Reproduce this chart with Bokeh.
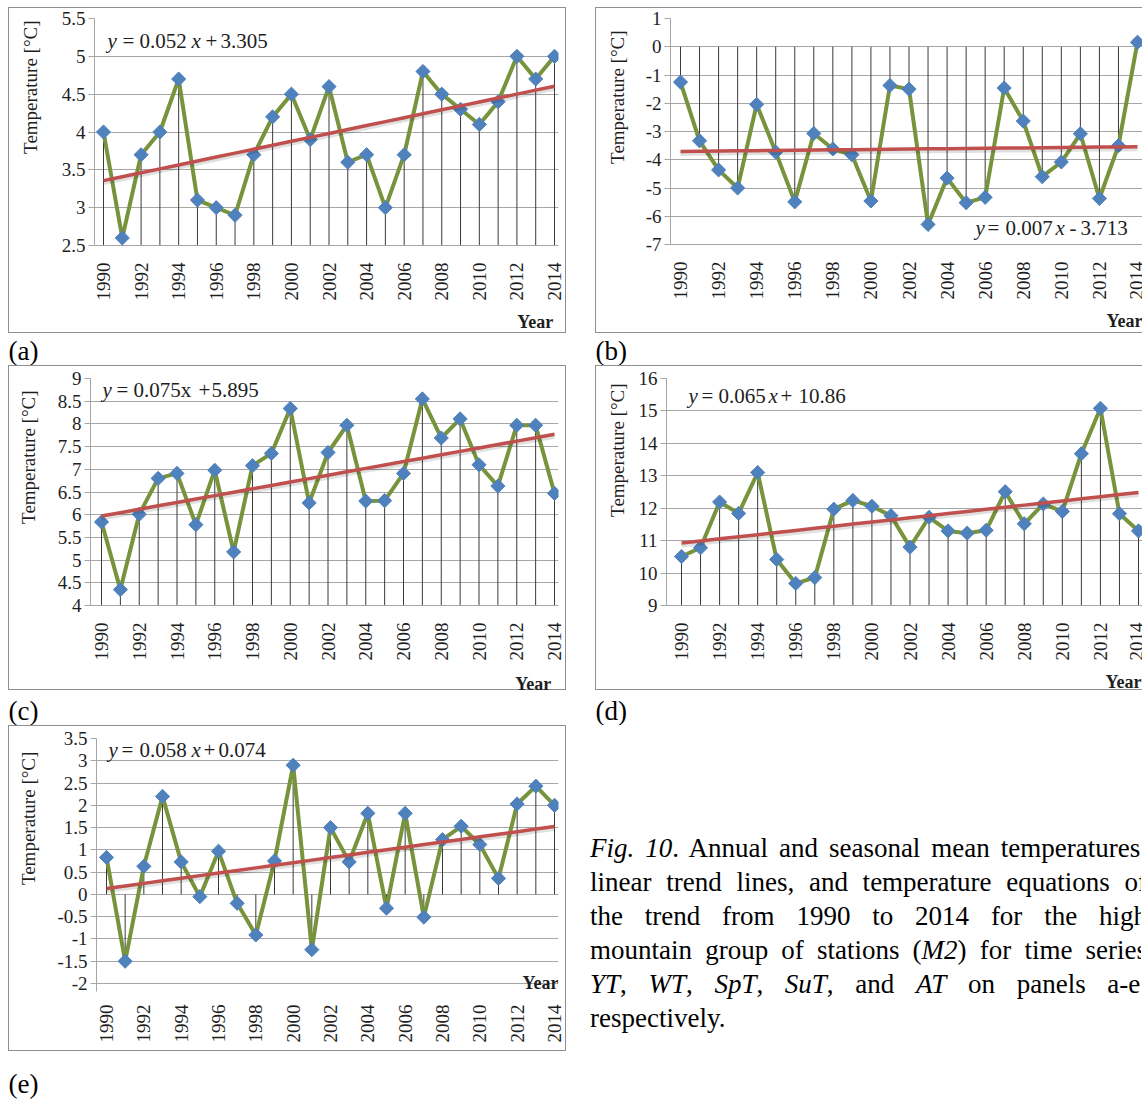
import numpy as np
from bokeh.plotting import figure
from bokeh.models import Range1d, FixedTicker, Label, Div, Spacer
from bokeh.layouts import row, column
from bokeh.embed import file_html
from bokeh.resources import INLINE

# ---------------- data ----------------
YEARS = list(range(1990, 2015))
X_TICKS = list(range(1990, 2015, 2))
X_LABELS = [str(y) for y in X_TICKS]

# (a) YT - annual
YT = [4.0, 2.6, 3.7, 4.0, 4.7, 3.1, 3.0, 2.9, 3.7, 4.2, 4.5, 3.9, 4.6,
      3.6, 3.7, 3.0, 3.7, 4.8, 4.5, 4.3, 4.1, 4.4, 5.0, 4.7, 5.0]
# (b) WT - winter
WT = [-1.25, -3.33, -4.36, -5.0, -2.04, -3.73, -5.49, -3.07, -3.62, -3.82,
      -5.46, -1.37, -1.5, -6.29, -4.65, -5.52, -5.33, -1.46, -2.63, -4.6,
      -4.08, -3.08, -5.37, -3.5, 0.16]
# (c) SpT - spring
SPT = [5.84, 4.35, 6.01, 6.8, 6.91, 5.78, 6.98, 5.18, 7.08, 7.35, 8.34,
       6.26, 7.37, 7.97, 6.3, 6.31, 6.91, 8.55, 7.69, 8.11, 7.1, 6.63,
       7.97, 7.97, 6.47]
# (d) SuT - summer
SUT = [10.51, 10.78, 12.19, 11.84, 13.1, 10.42, 9.68, 9.86, 11.97, 12.24,
       12.06, 11.77, 10.8, 11.72, 11.3, 11.23, 11.32, 12.51, 11.52, 12.13,
       11.9, 13.68, 15.08, 11.83, 11.3]
# (e) AT - autumn
AT = [0.83, -1.5, 0.63, 2.2, 0.73, -0.05, 0.97, -0.2, -0.91, 0.75, 2.9,
      -1.24, 1.5, 0.73, 1.82, -0.31, 1.82, -0.51, 1.23, 1.53, 1.12, 0.36,
      2.03, 2.43, 2.0]

# trend equations y = a*x + b (x = 1 .. 25)
TREND_YT = (0.052, 3.305)
TREND_WT = (0.007, -3.713)
TREND_SPT = (0.075, 5.895)
TREND_SUT = (0.065, 10.86)
TREND_AT = (0.058, 0.074)

Y_TICKS_YT = [2.5, 3, 3.5, 4, 4.5, 5, 5.5]
Y_LABELS_YT = ["2.5", "3", "3.5", "4", "4.5", "5", "5.5"]
Y_TICKS_WT = [-7, -6, -5, -4, -3, -2, -1, 0, 1]
Y_LABELS_WT = ["-7", "-6", "-5", "-4", "-3", "-2", "-1", "0", "1"]
Y_TICKS_SPT = [4, 4.5, 5, 5.5, 6, 6.5, 7, 7.5, 8, 8.5, 9]
Y_LABELS_SPT = ["4", "4.5", "5", "5.5", "6", "6.5", "7", "7.5", "8", "8.5", "9"]
Y_TICKS_SUT = [9, 10, 11, 12, 13, 14, 15, 16]
Y_LABELS_SUT = ["9", "10", "11", "12", "13", "14", "15", "16"]
Y_TICKS_AT = [-2, -1.5, -1, -0.5, 0, 0.5, 1, 1.5, 2, 2.5, 3, 3.5]
Y_LABELS_AT = ["-2", "-1.5", "-1", "-0.5", "0", "0.5", "1", "1.5", "2", "2.5", "3", "3.5"]

EQ_YT = [("y", True), ("=", False), ("0.052", False), ("x", True), ("+", False), ("3.305", False)]
EQ_WT = [("y", True), ("=", False), ("0.007", False), ("x", True), ("-", False), ("3.713", False)]
EQ_SPT = [("y", True), ("=", False), ("0.075x", False), ("+", False), ("5.895", False)]
EQ_SUT = [("y", True), ("=", False), ("0.065", False), ("x", True), ("+", False), ("10.86", False)]
EQ_AT = [("y", True), ("=", False), ("0.058", False), ("x", True), ("+", False), ("0.074", False)]

Y_AXIS_TITLE = "Temperature [°C]"
X_AXIS_TITLE = "Year"
PANEL_TAGS = ["(a)", "(b)", "(c)", "(d)", "(e)"]
CAPTION_LINES = [
    "<i>Fig. 10</i>. Annual and seasonal mean temperatures,",
    "linear trend lines, and temperature equations of",
    "the trend from 1990 to 2014 for the high",
    "mountain group of stations (<i>M2</i>) for time series",
    "<i>YT</i>, <i>WT</i>, <i>SpT</i>, <i>SuT</i>, and <i>AT</i> on panels a-e,",
    "respectively.",
]

# ---------------- layout / style ----------------
SERIF = "Liberation Serif"
GREEN = "#77933C"
BLUE = "#4F81BD"
RED = "#C0504D"
GRID = "#A6A6A6"
FRAME_EDGE = "#8F8F8F"
TXT = "#1E1E1E"

# page-pixel geometry: panel box (bx, by, bw, bh), y-title strip width tw, plot height ph,
# plot frame fl..fr / ft..fb, pixel of first/last year, text anchors (centres)
GEOM_A = dict(bx=8, by=7, bw=558, bh=326, tw=36, ph=297, fl=94, fr=558, ft=18, fb=245,
              x0=103, x1=554, tt=(30, 20), year=(560, 321), eq_y=40,
              eq_x=[107, 122, 139, 191, 205, 220])
GEOM_B = dict(bx=595, by=7, bw=547, bh=326, tw=36, ph=297, fl=670, fr=1142, ft=18, fb=244,
              x0=680, x1=1137, tt=(617, 30), year=(1142, 320), eq_y=227,
              eq_x=[975, 987, 1005, 1055, 1069, 1080])
GEOM_C = dict(bx=8, by=365, bw=558, bh=325, tw=36, ph=299, fl=90, fr=558, ft=378, fb=605,
              x0=101, x1=554, tt=(28, 390), year=(558, 683), eq_y=389,
              eq_x=[102, 116, 133, 198, 211])
GEOM_D = dict(bx=595, by=365, bw=547, bh=325, tw=36, ph=299, fl=666, fr=1142, ft=378, fb=605,
              x0=681, x1=1138, tt=(617, 383), year=(1141, 681), eq_y=395,
              eq_x=[688, 701, 718, 768, 780, 798])
GEOM_E = dict(bx=8, by=725, bw=558, bh=326, tw=36, ph=326, fl=96, fr=558, ft=738, fb=983,
              x0=106, x1=554, tt=(28, 742), year=(558, 982), eq_y=749,
              eq_x=[108, 121, 139, 191, 203, 218], ext=8)


def text_fig(w, h):
    t = figure(width=w, height=h, title=None, output_backend="svg", toolbar_location=None,
               x_range=Range1d(0, w), y_range=Range1d(0, h),
               x_axis_type=None, y_axis_type=None, min_border=0,
               border_fill_color=None, background_fill_color=None, outline_line_color=None)
    t.grid.visible = False
    return t


def make_panel(vals, trend, yticks, ylabels, g, eq, base, right_cut=False):
    sx = (g["x1"] - g["x0"]) / (YEARS[-1] - YEARS[0])
    xs = YEARS[0] - (g["x0"] - g["fl"]) / sx
    xe = YEARS[-1] + (g["fr"] - g["x1"]) / sx
    ys, ye = yticks[0], yticks[-1]
    sy = (g["fb"] - g["ft"]) / (ye - ys)
    ext = g.get("ext", 0)          # extra frame below the lowest gridline (year label inside)
    fb = g["fb"] + ext
    ys_frame = ys - ext / sy

    def dx(px):
        return xs + (px - g["fl"]) / sx

    def dy(py):
        return ye - (py - g["ft"]) / sy

    px0 = g["bx"] + g["tw"]
    pw = g["bw"] - g["tw"]
    p = figure(width=pw, height=g["ph"], title=None, output_backend="svg", toolbar_location=None,
               x_range=Range1d(xs, xe), y_range=Range1d(ys_frame, ye),
               min_border_left=g["fl"] - px0, min_border_right=g["bx"] + g["bw"] - g["fr"],
               min_border_top=g["ft"] - g["by"], min_border_bottom=g["by"] + g["ph"] - fb,
               border_fill_color=None, background_fill_color="white", outline_line_color=None)

    # axes
    p.yaxis.ticker = FixedTicker(ticks=yticks)
    p.yaxis.major_label_overrides = {t: l for t, l in zip(yticks, ylabels)}
    p.yaxis.major_label_text_font = SERIF
    p.yaxis.major_label_text_font_size = "19px"
    p.yaxis.major_label_text_color = TXT
    p.yaxis.major_tick_out = 6
    p.yaxis.major_tick_in = 0
    p.yaxis.major_tick_line_color = GRID
    p.yaxis.minor_tick_line_color = None
    p.yaxis.axis_line_color = GRID
    p.yaxis.major_label_standoff = 3

    p.xaxis.ticker = FixedTicker(ticks=X_TICKS)
    p.xaxis.major_label_overrides = {t: l for t, l in zip(X_TICKS, X_LABELS)}
    p.xaxis.major_label_orientation = np.pi / 2
    p.xaxis.major_label_text_font = SERIF
    p.xaxis.major_label_text_font_size = "19px"
    p.xaxis.major_label_text_color = TXT
    p.xaxis.major_tick_line_color = None
    p.xaxis.minor_tick_line_color = None
    p.xaxis.major_tick_out = 0
    p.xaxis.major_tick_in = 0
    p.xaxis.axis_line_color = None if ext else GRID
    p.xaxis.major_label_standoff = 17 - ext + (4 if ext else 0)

    p.xgrid.visible = False
    p.ygrid.ticker = FixedTicker(ticks=yticks)
    p.ygrid.grid_line_color = GRID

    # data
    trend_vals = [trend[0] * (i + 1) + trend[1] for i in range(len(YEARS))]
    p.segment(x0=YEARS, y0=[base] * len(YEARS), x1=YEARS, y1=vals, line_color="#3A3A3A", line_width=1)
    p.line(YEARS, vals, line_color=GREEN, line_width=4)
    p.scatter(YEARS, vals, marker="square", size=10, angle=np.pi / 4,
              fill_color=BLUE, line_color=BLUE)
    p.line(YEARS, [v - 2.5 / sy for v in trend_vals], line_color="#000000", line_alpha=0.12, line_width=4)
    p.line(YEARS, trend_vals, line_color=RED, line_width=3.5)

    # equation
    for (txt, ital), px in zip(eq, g["eq_x"]):
        p.add_layout(Label(x=dx(px), y=dy(g["eq_y"]), text=txt, text_align="left",
                           text_baseline="middle", text_font=SERIF, text_font_size="21px",
                           text_font_style="italic" if ital else "normal", text_color=TXT))

    # y-axis title strip
    tf = text_fig(g["tw"], g["bh"])
    tf.add_layout(Label(x=g["tt"][0] - g["bx"], y=g["bh"] - (g["tt"][1] - g["by"]),
                        text=Y_AXIS_TITLE, angle=np.pi / 2, text_align="right",
                        text_baseline="middle", text_font=SERIF, text_font_size="19px",
                        text_color=TXT))

    year_kw = dict(text=X_AXIS_TITLE, text_align="right", text_baseline="middle", text_font=SERIF,
                   text_font_size="18px", text_font_style="bold", text_color=TXT)
    if g["ph"] < g["bh"]:
        yh = g["bh"] - g["ph"]
        yf = text_fig(pw, yh)
        yf.add_layout(Label(x=g["year"][0] - px0, y=yh - (g["year"][1] - (g["by"] + g["ph"])),
                            **year_kw))
        right_part = column(p, yf)
    else:
        p.add_layout(Label(x=dx(g["year"][0]), y=dy(g["year"][1]), **year_kw))
        right_part = p

    if right_cut:
        shadow = (f"inset 1px 0 0 0 {FRAME_EDGE}, inset 0 1px 0 0 {FRAME_EDGE}, "
                  f"inset 0 -1px 0 0 {FRAME_EDGE}")
    else:
        shadow = f"inset 0 0 0 1px {FRAME_EDGE}"
    return row(tf, right_part, styles={"box-shadow": shadow})


pa = make_panel(YT, TREND_YT, Y_TICKS_YT, Y_LABELS_YT, GEOM_A, EQ_YT, 2.5)
pb = make_panel(WT, TREND_WT, Y_TICKS_WT, Y_LABELS_WT, GEOM_B, EQ_WT, 0, right_cut=True)
pc = make_panel(SPT, TREND_SPT, Y_TICKS_SPT, Y_LABELS_SPT, GEOM_C, EQ_SPT, 4)
pd = make_panel(SUT, TREND_SUT, Y_TICKS_SUT, Y_LABELS_SUT, GEOM_D, EQ_SUT, 9, right_cut=True)
pe = make_panel(AT, TREND_AT, Y_TICKS_AT, Y_LABELS_AT, GEOM_E, EQ_AT, 0)


def tag_fig(txt, width, height, center_from_top):
    t = text_fig(width, height)
    t.add_layout(Label(x=0, y=height - center_from_top, text=txt, text_align="left",
                       text_baseline="middle", text_font=SERIF, text_font_size="27px",
                       text_color="#000000"))
    return t


cap_lines = []
for i, ln in enumerate(CAPTION_LINES):
    last = i == len(CAPTION_LINES) - 1
    al = "left" if last else "justify"
    cap_lines.append(f'<div style="text-align:{al};text-align-last:{al}">{ln}</div>')
cap_html = (f'<div style="width:551px;overflow:hidden;margin-top:101px">'
            f'<div style="width:557px;font-family:\'{SERIF}\';font-size:27px;line-height:34px;color:#000">'
            + "".join(cap_lines) + '</div></div>')
caption = Div(text=cap_html, width=557, height=300)

body = column(
    row(pa, Spacer(width=29, height=326), pb),
    row(tag_fig(PANEL_TAGS[0], 587, 32, 17), tag_fig(PANEL_TAGS[1], 547, 32, 17)),
    row(pc, Spacer(width=29, height=325), pd),
    row(tag_fig(PANEL_TAGS[2], 587, 35, 20), tag_fig(PANEL_TAGS[3], 547, 35, 20)),
    row(pe, Spacer(width=19, height=326), caption),
    tag_fig(PANEL_TAGS[4], 120, 48, 32),
)
layout = column(Spacer(width=1142, height=7), row(Spacer(width=8, height=1), body))

open("out.html", "w").write(file_html(layout, INLINE))
